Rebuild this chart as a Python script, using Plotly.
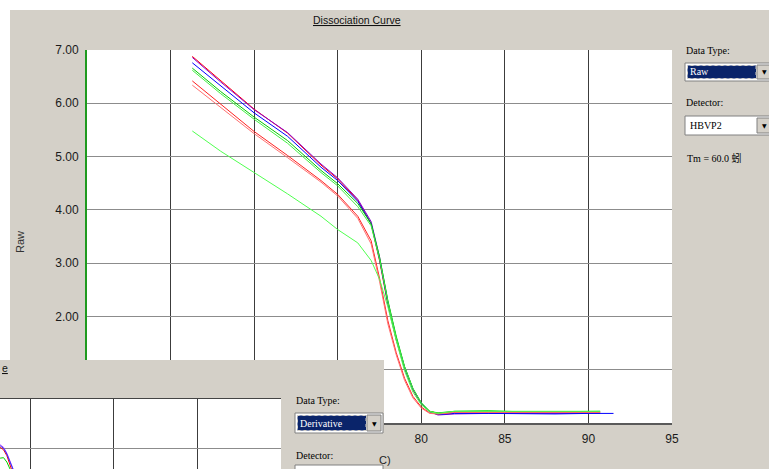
import plotly.graph_objects as go

W, H = 769, 469

# ---------------- data ----------------
temps = [66.3, 68, 70, 72, 74, 75, 76.2, 77, 77.5, 78, 78.5, 79, 79.5, 80, 80.5, 81, 82, 84, 86, 88, 90, 90.7, 91.5]

raw_red1 = [6.88, 6.42, 5.89, 5.44, 4.84, 4.58, 4.18, 3.74, 3.05, 2.22, 1.56, 1.02, 0.62, 0.36, 0.22, 0.18, 0.20, 0.20, 0.20, 0.20, 0.20, 0.20, None]
raw_purple = [6.86, 6.40, 5.88, 5.45, 4.86, 4.60, 4.20, 3.78, 3.12, 2.28, 1.60, 1.05, 0.64, 0.37, 0.21, 0.15, 0.17, 0.18, 0.18, 0.18, 0.18, 0.18, None]
raw_blue = [6.76, 6.32, 5.82, 5.38, 4.80, 4.55, 4.16, 3.74, 3.08, 2.25, 1.58, 1.03, 0.63, 0.37, 0.21, 0.16, 0.18, 0.18, 0.17, 0.17, 0.18, 0.18, 0.18]
raw_green1 = [6.66, 6.22, 5.74, 5.30, 4.74, 4.49, 4.12, 3.74, 3.12, 2.30, 1.63, 1.06, 0.65, 0.38, 0.22, 0.19, 0.22, 0.23, 0.21, 0.21, 0.22, 0.22, None]
raw_green2 = [6.62, 6.18, 5.70, 5.25, 4.70, 4.45, 4.06, 3.70, 3.08, 2.27, 1.60, 1.05, 0.64, 0.38, 0.22, 0.18, 0.21, 0.22, 0.21, 0.20, 0.21, 0.21, None]
raw_red2 = [6.42, 5.98, 5.47, 5.02, 4.55, 4.29, 3.88, 3.42, 2.72, 1.92, 1.32, 0.84, 0.50, 0.30, 0.19, 0.17, 0.20, 0.20, 0.20, 0.20, 0.20, 0.20, None]
raw_red3 = [6.34, 5.92, 5.43, 4.98, 4.52, 4.26, 3.84, 3.36, 2.66, 1.86, 1.28, 0.80, 0.47, 0.28, 0.18, 0.17, 0.20, 0.20, 0.20, 0.20, 0.20, 0.20, None]
raw_green3 = [5.48, 5.10, 4.70, 4.30, 3.88, 3.63, 3.38, 3.05, 2.70, 2.18, 1.55, 0.98, 0.58, 0.34, 0.21, 0.18, 0.22, 0.22, 0.22, 0.22, 0.22, 0.22, None]

raw_series = [
    ("red 1", "#ff0000", raw_red1),
    ("purple", "#8a00d0", raw_purple),
    ("blue", "#0000ff", raw_blue),
    ("green 1", "#00c800", raw_green1),
    ("green 2", "#40f040", raw_green2),
    ("red 2", "#ff2020", raw_red2),
    ("red 3", "#ff7070", raw_red3),
    ("green 3", "#50ff50", raw_green3),
]

deriv_temps = [77.8, 78.0, 78.2, 78.4, 78.6, 78.8, 79.0, 79.3]
deriv_purple = [1.00, 1.06, 1.07, 1.02, 0.90, 0.70, 0.50, 0.30]
deriv_red = [0.96, 1.01, 1.02, 0.97, 0.85, 0.62, 0.45, 0.28]
deriv_blue = [0.98, 1.04, 1.05, 1.00, 0.88, 0.67, 0.48, 0.29]
deriv_green = [0.70, 0.78, 0.80, 0.81, 0.72, 0.55, 0.42, 0.26]
deriv_series = [
    ("purple", "#b040ff", deriv_purple),
    ("red", "#ff0000", deriv_red),
    ("blue", "#3030ff", deriv_blue),
    ("green", "#00d000", deriv_green),
]

x_ticks_main = [65, 70, 75, 80, 85, 90, 95]
x_ticks_lower = [80, 85, 90, 95]
y_ticks_main = [2, 3, 4, 5, 6, 7]

# ---------------- geometry helpers ----------------
def px(x):
    return x / W

def py(y):
    return 1 - y / H

ppu = 373 / 7.0       # pixels per Raw unit
ppx = 585 / 35.0      # pixels per degree
y_split = 7 - 310 / ppu

fig = go.Figure()

for name, color, vals in raw_series:
    for xa, ya in (("x", "y"), ("x2", "y2")):
        fig.add_trace(go.Scatter(x=temps, y=vals, mode="lines", name=name,
                                 line=dict(color=color, width=1),
                                 xaxis=xa, yaxis=ya, showlegend=False,
                                 connectgaps=False, hoverinfo="skip"))

for name, color, vals in deriv_series:
    fig.add_trace(go.Scatter(x=deriv_temps, y=vals, mode="lines", name=name,
                             line=dict(color=color, width=1),
                             xaxis="x3", yaxis="y3", showlegend=False,
                             hoverinfo="skip"))

tickfont = dict(family="Liberation Sans Narrow, Arial Narrow, Liberation Sans, Arial",
                size=12, color="#1a1a1a")
vgrid = "#3c3c3c"
hgrid = "#8c8c8c"

fig.update_layout(
    template="none",
    width=W, height=H, autosize=False,
    margin=dict(l=0, r=0, t=0, b=0, pad=0, autoexpand=False),
    paper_bgcolor="#d4d0c8",
    plot_bgcolor="#ffffff",
    showlegend=False,
    xaxis=dict(domain=[px(87), px(672)], range=[60, 95], anchor="y",
               tickvals=x_ticks_main, showticklabels=False, ticks="",
               showgrid=True, gridcolor=vgrid, gridwidth=1, automargin=False,
               zeroline=False, showline=False),
    yaxis=dict(domain=[py(360), py(50)], range=[y_split, 7], anchor="x",
               tickvals=y_ticks_main, ticktext=["%.2f" % v for v in y_ticks_main],
               tickfont=tickfont, ticks="", ticklabelstandoff=4, automargin=False,
               showgrid=True, gridcolor=hgrid, gridwidth=1,
               zeroline=False, showline=True, linecolor="#1f9a1f", linewidth=2),
    xaxis2=dict(domain=[px(384), px(672)], range=[60 + (384 - 87) / ppx, 95], anchor="y2",
                tickvals=x_ticks_lower, ticktext=[str(v) for v in x_ticks_lower],
                tickfont=tickfont, ticks="", ticklabelstandoff=4, automargin=False,
                showgrid=True, gridcolor=vgrid, gridwidth=1,
                zeroline=False, showline=True, linecolor="#5a5a5a", linewidth=2),
    yaxis2=dict(domain=[py(423), py(360)], range=[0, y_split], anchor="x2",
                tickvals=[1], showticklabels=False, ticks="", automargin=False,
                showgrid=True, gridcolor=hgrid, gridwidth=1,
                zeroline=False, showline=False),
    xaxis3=dict(domain=[0, px(281)], range=[95 - 281 / ppx, 95], anchor="y3",
                tickvals=x_ticks_lower, showticklabels=False, ticks="", automargin=False,
                showgrid=True, gridcolor=vgrid, gridwidth=1, side="top",
                zeroline=False, showline=True, linecolor="#444444", linewidth=1),
    yaxis3=dict(domain=[0, py(399)], range=[0.58, 2.0], anchor="x3",
                tickvals=[1.0], showticklabels=False, ticks="", automargin=False,
                showgrid=True, gridcolor=hgrid, gridwidth=1,
                zeroline=False, showline=False),
)

shapes = []
# white strips at top and left of the screenshot
shapes.append(dict(type="rect", xref="paper", yref="paper", x0=0, x1=1, y0=py(10), y1=1,
                   fillcolor="#ffffff", line=dict(width=0), layer="below"))
shapes.append(dict(type="rect", xref="paper", yref="paper", x0=0, x1=px(10), y0=py(360), y1=1,
                   fillcolor="#ffffff", line=dict(width=0), layer="below"))

def box(x0, y0, x1, y1, fill, line="#808080", width=1, dash="solid"):
    shapes.append(dict(type="rect", xref="paper", yref="paper",
                       x0=px(x0), x1=px(x1), y0=py(y1), y1=py(y0),
                       fillcolor=fill, line=dict(color=line, width=width, dash=dash),
                       layer="above"))

# Raw dropdown
box(685, 63, 771, 81, "#ffffff", "#808080")
box(687.5, 65.5, 756, 78.5, "#0a246a", "#d4d0c8", 1, "dot")
box(757, 65, 771, 79, "#d4d0c8", "#808080")
# Detector dropdown
box(685, 116, 771, 135, "#ffffff", "#808080")
box(757, 118, 771, 133, "#d4d0c8", "#808080")
# Derivative dropdown (overlay)
box(295, 413, 383, 433, "#ffffff", "#808080")
box(297.5, 415.5, 366, 430.5, "#0a246a", "#d4d0c8", 1, "dot")
box(367, 415, 381, 431, "#d4d0c8", "#808080")
# Detector dropdown (overlay, cut off)
box(295, 465, 383, 480, "#ffffff", "#808080")

fig.update_layout(shapes=shapes)

ui_font = "Liberation Serif, Times New Roman, serif"
anns = []

def text(x, y, s, size=10, color="#000000", xanchor="left", family=ui_font, angle=0):
    anns.append(dict(x=px(x), y=py(y), xref="paper", yref="paper", text=s,
                     showarrow=False, xanchor=xanchor, yanchor="middle",
                     textangle=angle,
                     font=dict(family=family, size=size, color=color)))

sans_narrow = "Liberation Sans Narrow, Arial Narrow, Liberation Sans, Arial"
text(357, 20, "<u>Dissociation Curve</u>", 10.5, "#111111", "center", sans_narrow)
text(20, 242, "Raw", 11, "#333333", "center", "Liberation Sans, Arial", -90)
text(684, 50, "Data Type:", 10)
text(688, 72, "Raw", 10, "#ffffff")
text(764, 72, "▼", 6, "#000000", "center", "DejaVu Sans")
text(684, 103, "Detector:", 10)
text(688, 125.5, "HBVP2", 10)
text(764, 125.5, "▼", 6, "#000000", "center", "DejaVu Sans")
text(685, 158, "Tm = 60.0 蚓", 10, "#000000", "left", "Liberation Serif, Noto Sans CJK TC")
# overlay window texts
text(0, 368, "<u>e</u>", 10.5, "#111111", "left", sans_narrow)
text(294, 400, "Data Type:", 10)
text(298, 423, "Derivative", 10, "#ffffff")
text(374, 423, "▼", 6, "#000000", "center", "DejaVu Sans")
text(294, 455, "Detector:", 10)
text(393, 460, "C)", 11, "#222222", "right", sans_narrow)

fig.update_layout(annotations=anns)

fig.write_html("out.html", config={"displayModeBar": False, "responsive": False},
               post_script="document.body.style.margin='0';document.body.style.overflow='hidden';")
